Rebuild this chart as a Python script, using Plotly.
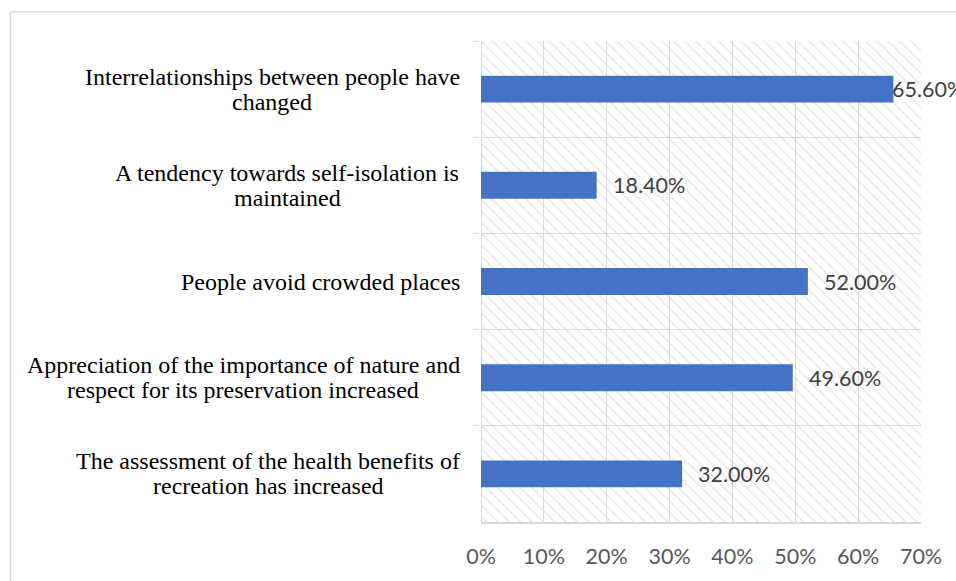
import plotly.graph_objects as go

# ---- data ----
categories = [
    "Interrelationships between people have<br>changed",
    "A tendency towards self-isolation is<br>maintained",
    "People avoid crowded places",
    "Appreciation of the importance of nature and<br>respect for its preservation increased",
    "The assessment of the health benefits of<br>recreation has increased",
]
values = [0.656, 0.184, 0.52, 0.496, 0.32]
x_tick_vals = [0, 0.1, 0.2, 0.3, 0.4, 0.5, 0.6, 0.7]
x_tick_text = ["0%", "10%", "20%", "30%", "40%", "50%", "60%", "70%"]
value_labels = [f"{v*100:.2f}%" for v in values]

x_max = x_tick_vals[-1]
grid_col = "#d9d9d9"
bar_col = "#4472C4"

# Times-Roman advance widths (1/1000 em) used to centre label lines in a right-aligned block
_TW = {" ": 250, "A": 722, "I": 333, "P": 556, "T": 611, "-": 333,
       "a": 444, "b": 500, "c": 444, "d": 500, "e": 444, "f": 333, "g": 500,
       "h": 500, "i": 278, "j": 278, "k": 500, "l": 278, "m": 778, "n": 500,
       "o": 500, "p": 500, "q": 500, "r": 333, "s": 389, "t": 278, "u": 500,
       "v": 500, "w": 722, "x": 500, "y": 500, "z": 444}
LABEL_SIZE = 24


def text_w(s):
    return sum(_TW.get(c, 500) for c in s) / 1000 * LABEL_SIZE


# plot area in figure pixels (page body margin removed below)
L, R, T, B = 481, 35, 41, 54
W, H = 956, 581
PW, PH = W - L - R, H - T - B

fig = go.Figure()

# hatched plot-area background
fig.add_trace(go.Bar(
    y=categories, x=[x_max] * len(categories), orientation="h", width=1,
    marker=dict(color="rgba(0,0,0,0)", line_width=0,
                pattern=dict(shape="\\", fgcolor="#d4d4d4", size=8, solidity=0.2)),
    hoverinfo="skip", showlegend=False,
))

# data bars
fig.add_trace(go.Bar(
    y=categories, x=values, orientation="h", width=0.28,
    marker=dict(color=bar_col, line_width=0),
    showlegend=False,
))

annotations = []
label_gap = 21
line_step = 25
for cat in categories:
    lines = cat.split("<br>")
    n = len(lines)
    block_w = max(text_w(s) for s in lines)
    centre_shift = -label_gap - block_w / 2
    for i, line in enumerate(lines):
        annotations.append(dict(
            x=0, xref="paper", y=cat, yref="y", text=line, showarrow=False,
            xanchor="center", yanchor="middle",
            font=dict(family="Liberation Serif", size=LABEL_SIZE, color="#000000"),
            xshift=centre_shift, yshift=-(i - (n - 1) / 2) * line_step,
        ))
# value labels
for cat, v, lab in zip(categories, values, value_labels):
    annotations.append(dict(
        x=v, xref="x", y=cat, yref="y", text=lab, showarrow=False,
        xanchor="left", yanchor="middle",
        xshift=(14 if v < 0.6 else -3),
        font=dict(family="Lato", size=21.5, color="#404040"),
    ))

fig.update_layout(
    width=W, height=H,
    margin=dict(l=L, r=R, t=T, b=B),
    paper_bgcolor="white", plot_bgcolor="white",
    barmode="overlay",
    annotations=annotations,
    shapes=[dict(type="rect", xref="paper", yref="paper",
                 x0=(10.5 - L) / PW, x1=(W + 20 - L) / PW,
                 y0=-(B + 20) / PH, y1=(PH + T - 11.5) / PH,
                 line=dict(color=grid_col, width=1.5), fillcolor="rgba(0,0,0,0)",
                 layer="below")],
    xaxis=dict(
        range=[0, x_max], tickvals=x_tick_vals, ticktext=x_tick_text,
        showgrid=True, gridcolor=grid_col, gridwidth=1.3,
        zeroline=True, zerolinecolor=grid_col, zerolinewidth=1.3,
        showline=True, linecolor=grid_col, linewidth=1.5,
        ticks="", ticklabelstandoff=14,
        tickfont=dict(family="Lato", size=21.5, color="#595959"),
        fixedrange=True,
    ),
    yaxis=dict(
        type="category", autorange="reversed",
        tickson="boundaries", ticks="outside", ticklen=7, tickcolor=grid_col,
        showticklabels=False, showgrid=True, gridcolor=grid_col, gridwidth=1.3,
        zeroline=False, showline=False, fixedrange=True,
    ),
)

fig.write_html(
    "out.html",
    config={"displayModeBar": False},
    post_script="document.body.style.margin='0';document.body.style.overflow='hidden';",
)
